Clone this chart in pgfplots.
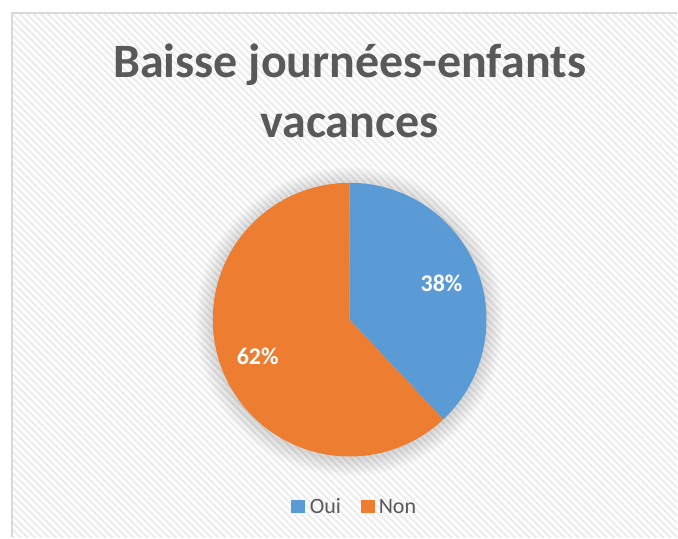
\documentclass[border=0pt]{standalone}
\usepackage{pgfplots}
\pgfplotsset{compat=1.18}
\usepackage{pgfplotstable}
\usepackage{fontspec}
\setmainfont{Carlito}
\usetikzlibrary{patterns.meta}
\definecolor{cblue}{HTML}{5B9BD5}
\definecolor{corange}{HTML}{ED7D31}
\definecolor{ctext}{HTML}{595959}
\definecolor{chatch}{HTML}{ECECEC}
\pgfplotstableread{
label value
Oui 38
Non 62
}\piedata
\pgfplotstablegetelem{0}{value}\of\piedata \global\let\vOui\pgfplotsretval
\pgfplotstablegetelem{1}{value}\of\piedata \global\let\vNon\pgfplotsretval
\pgfmathsetmacro{\aEnd}{90-3.6*\vOui}
\begin{document}
\begin{tikzpicture}
\begin{axis}[
  width=678pt, height=538pt, scale only axis,
  xmin=0, xmax=678, ymin=0, ymax=538,
  hide axis, clip=false,
]
% background and frame
\fill[white] (axis cs:0,0) rectangle (axis cs:678,538);
\fill[pattern={Lines[angle=-45,distance=5pt,line width=2pt]},pattern color=chatch]
  (axis cs:12,0) rectangle (axis cs:678,525);
\draw[line width=1.5pt, color=black!15] (axis cs:678,525) -- (axis cs:12,525) -- (axis cs:12,0);
% shadow glow
\pgfplotsinvokeforeach{154,151,148,145,142,139}{
  \fill[black, opacity=0.022] (axis cs:350,216) circle[radius=#1pt];
}
% slices
\fill[cblue] (axis cs:350,218) -- ++(90:137pt) arc[start angle=90, end angle=\aEnd, radius=137pt] -- cycle;
\fill[corange] (axis cs:350,218) -- ++(\aEnd:137pt) arc[start angle=\aEnd, end angle=-270, radius=137pt] -- cycle;
% labels
\node[white, font=\bfseries\fontsize{24}{26}\selectfont] at (axis cs:442,254) {\vOui\%};
\node[white, font=\bfseries\fontsize{24}{26}\selectfont] at (axis cs:258,181) {\vNon\%};
% title
\node[ctext, font=\bfseries\fontsize{48}{60}\selectfont, align=center, anchor=base] at (axis cs:350,460) {Baisse journées-enfants};
\node[ctext, font=\bfseries\fontsize{48}{60}\selectfont, align=center, anchor=base] at (axis cs:350,400) {vacances};
% legend
\fill[cblue] (axis cs:291,24) rectangle (axis cs:305,37);
\node[ctext, font=\fontsize{22}{24}\selectfont, anchor=base west, inner sep=0pt] at (axis cs:310,24) {Oui};
\fill[corange] (axis cs:361,24) rectangle (axis cs:375,37);
\node[ctext, font=\fontsize{22}{24}\selectfont, anchor=base west, inner sep=0pt] at (axis cs:379,24) {Non};
\end{axis}
\end{tikzpicture}
\end{document}
